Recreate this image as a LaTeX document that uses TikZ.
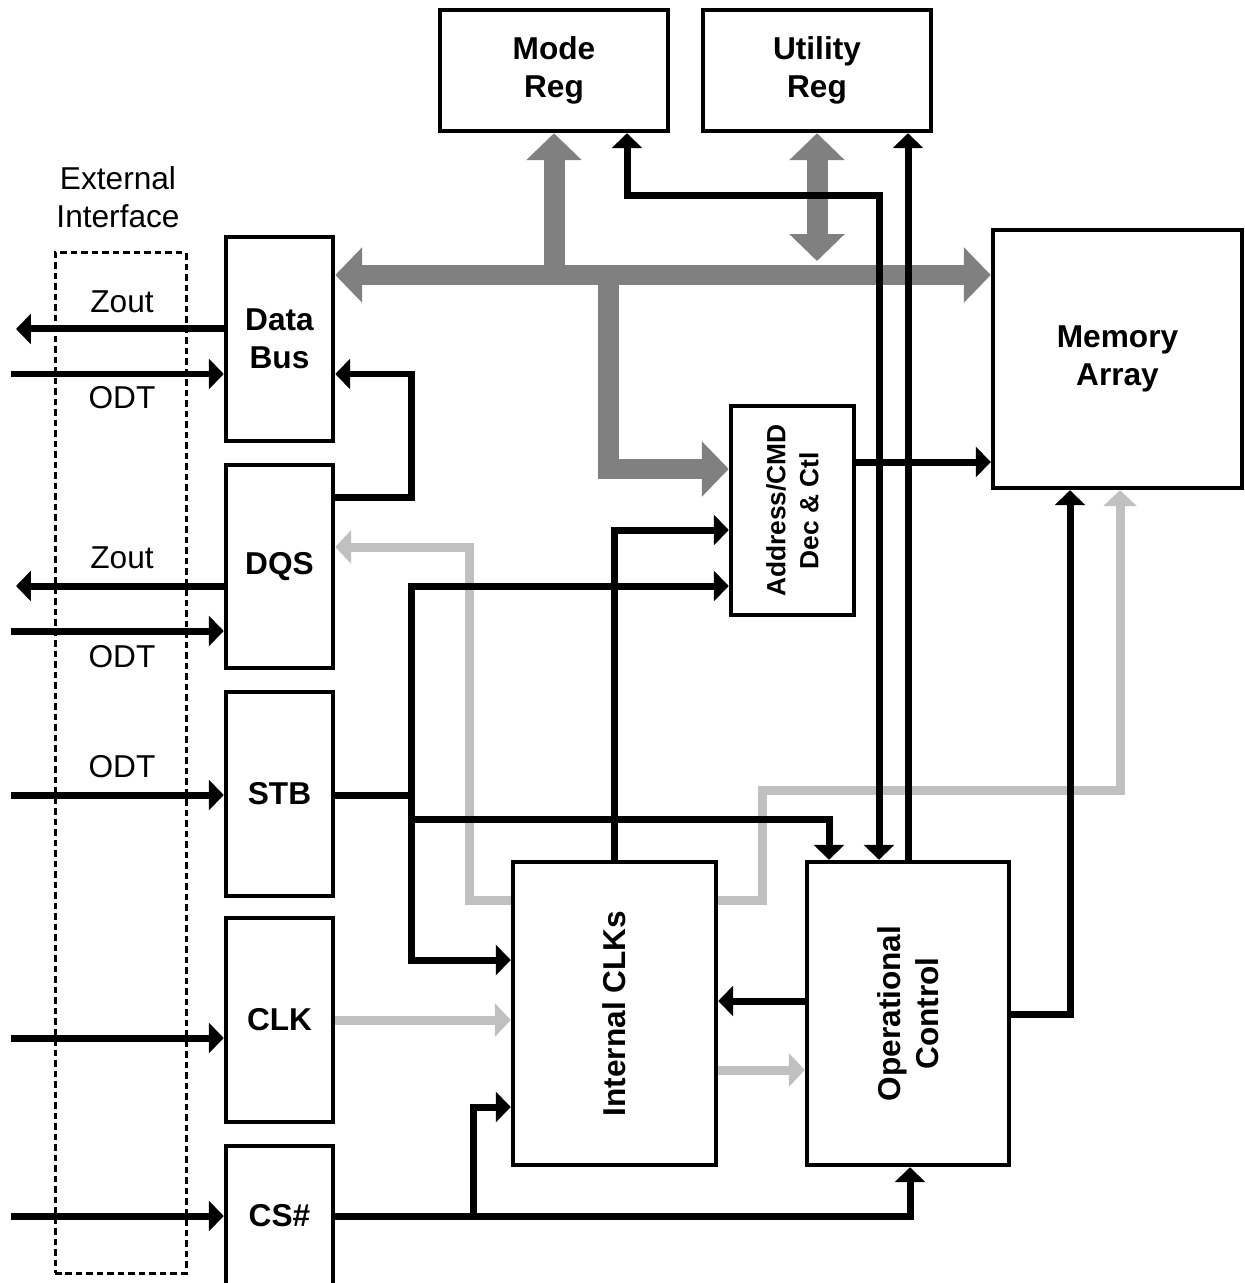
\documentclass[tikz,border=0pt]{standalone}
\usepackage{fontspec}
\setmainfont{Liberation Sans}
\usetikzlibrary{arrows.meta,fit}
\definecolor{busgray}{HTML}{808080}
\definecolor{siggray}{HTML}{C0C0C0}
\begin{document}
\begin{tikzpicture}[x=0.02cm,y=-0.02cm,
  box/.style={draw,line width=0.09cm,inner sep=0pt,align=center,font=\fontsize{18}{21.6}\selectfont\bfseries},
  vtxt/.style={rotate=90,align=center,font=\fontsize{18}{21.6}\selectfont\bfseries},
  lbl/.style={align=center,font=\fontsize{18}{21.6}\selectfont},
  blkline/.style={line width=0.14cm},
  blk/.style={line width=0.14cm,-{Triangle[length=0.3cm,width=0.6cm]}},
  blkboth/.style={line width=0.14cm,{Triangle[length=0.3cm,width=0.6cm]}-{Triangle[length=0.3cm,width=0.6cm]}},
  sig/.style={line width=0.18cm,color=siggray,-{Triangle[length=0.32cm,width=0.66cm]}},
  bus/.style={line width=0.42cm,color=busgray,-{Triangle[length=0.54cm,width=1.08cm]}},
  busboth/.style={line width=0.42cm,color=busgray,{Triangle[length=0.54cm,width=1.08cm]}-{Triangle[length=0.54cm,width=1.08cm]}}
]
\useasboundingbox (0,0) rectangle (1244,1283);

% external interface
\node[lbl] (extif) at (118,197) {External\\Interface};
\node[draw,line width=0.06cm,dash pattern=on 0.13cm off 0.08cm,inner sep=0pt,fit={(55,253)(186,1273)}] (extbox) {};

% boxes
\node[box,minimum width=4.56cm,minimum height=2.42cm] (modereg) at (554,70.5) {Mode\\Reg};
\node[box,minimum width=4.56cm,minimum height=2.42cm] (utilreg) at (817,70.5) {Utility\\Reg};
\node[box,minimum width=2.14cm,minimum height=4.08cm] (databus) at (279.5,339) {Data\\Bus};
\node[box,minimum width=2.14cm,minimum height=4.06cm] (dqs) at (279.5,566.5) {DQS};
\node[box,minimum width=2.14cm,minimum height=4.08cm] (stb) at (279.5,794) {STB};
\node[box,minimum width=2.14cm,minimum height=4.08cm] (clk) at (279.5,1020) {CLK};
\node[box,minimum width=2.14cm,minimum height=2.8cm] (cs) at (279.5,1216) {CS\#};
\node[box,minimum width=4.06cm,minimum height=6.06cm] (iclk) at (614.5,1013.5) {};
\node[box,minimum width=4.04cm,minimum height=6.06cm] (opctl) at (908,1013.5) {};
\node[box,minimum width=2.46cm,minimum height=4.18cm] (addr) at (792.5,510.5) {};
\node[box,minimum width=4.98cm,minimum height=5.16cm] (mem) at (1117.5,359) {Memory\\Array};

\node[vtxt,font=\fontsize{15}{18.8}\selectfont\bfseries] (addrtxt) at (addr.center) {Address/CMD\\Dec \& Ctl};
\node[vtxt] (iclktxt) at (iclk.center) {Internal CLKs};
\node[vtxt] (opctltxt) at (opctl.center) {Operational\\Control};

% interface labels
\node[lbl] (tz1) at (122,302) {Zout};
\node[lbl] (to1) at (122,398) {ODT};
\node[lbl] (tz2) at (122,558) {Zout};
\node[lbl] (to2) at (122,657) {ODT};
\node[lbl] (to3) at (122,767) {ODT};

% free ends
\coordinate (zo1) at (16,329);
\coordinate (od1) at (11,374);
\coordinate (zo2) at (16,586);
\coordinate (od2) at (11,631);
\coordinate (od3) at (11,795);
\coordinate (ck) at (11,1038);
\coordinate (csi) at (11,1216);

\draw[blk] (databus.west |- zo1) -- (zo1);
\draw[blk] (od1) -- (databus.west |- od1);
\draw[blk] (dqs.west |- zo2) -- (zo2);
\draw[blk] (od2) -- (dqs.west |- od2);
\draw[blk] (od3) -- (stb.west |- od3);
\draw[blk] (ck) -- (clk.west |- ck);
\draw[blk] (csi) -- (cs.west |- csi);

% gray bus
\coordinate (b0) at (0,275);
\coordinate (bu) at (554,275);
\coordinate (bd) at (608,275);
\coordinate (bdd) at (608,469);
\coordinate (ub) at (817,261);
\draw[bus] (bu) -- (modereg.south);
\draw[bus] (bd) -- (bdd) -- (addr.west |- bdd);
\draw[busboth] (databus.east |- b0) -- (mem.west |- b0);
\draw[busboth] (ub) -- (utilreg.south);

% DQS -> Data Bus
\coordinate (dq1) at (411,497);
\coordinate (dq2) at (411,374);
\draw[blk] (dqs.east |- dq1) -- (dq1) -- (dq2) -- (databus.east |- dq2);

% Internal CLKs -> DQS (gray)
\coordinate (g1) at (469,900);
\coordinate (g2) at (469,547);
\draw[sig] (iclk.west |- g1) -- (g1) -- (g2) -- (dqs.east |- g2);

% Internal CLKs -> Memory (gray)
\coordinate (q1) at (762,900);
\coordinate (q2) at (762,790);
\coordinate (q3) at (1120,790);
\draw[sig] (iclk.east |- q1) -- (q1) -- (q2) -- (q3) -- (mem.south -| q3);

% STB net
\coordinate (sj) at (411,795);
\coordinate (sa) at (411,586);
\coordinate (sb) at (411,960);
\coordinate (sc) at (411,819);
\coordinate (sd) at (829,819);
\draw[blkline] (stb.east |- sj) -- (sj);
\draw[blk] (sj) -- (sa) -- (addr.west |- sa);
\draw[blk] (sj) -- (sb) -- (iclk.west |- sb);
\draw[blk] (sc) -- (sd) -- (opctl.north -| sd);

% Internal CLKs -> Addr
\coordinate (ia) at (614,530);
\draw[blk] (iclk.north) -- (iclk.north |- ia) -- (addr.west |- ia);

% Addr -> Memory
\coordinate (am) at (0,462);
\draw[blk] (addr.east |- am) -- (mem.west |- am);

% Mode Reg <-> Operational Control
\coordinate (m1) at (879,196);
\coordinate (m2) at (627,196);
\draw[blkboth] (opctl.north -| m1) -- (m1) -- (m2) -- (modereg.south -| m2);

% Operational Control -> Utility Reg
\draw[blk] (opctl.north) -- (opctl.north |- utilreg.south);

% Operational Control -> Memory
\coordinate (om) at (1070,1014);
\draw[blk] (opctl.east |- om) -- (om) -- (mem.south -| om);

% between Internal CLKs and Operational Control
\coordinate (oi) at (0,1001);
\coordinate (io) at (0,1070);
\draw[blk] (opctl.west |- oi) -- (iclk.east |- oi);
\draw[sig] (iclk.east |- io) -- (opctl.west |- io);

% CLK -> Internal CLKs
\coordinate (ci) at (0,1020);
\draw[sig] (clk.east |- ci) -- (iclk.west |- ci);

% CS# net
\coordinate (c1) at (910,1216);
\coordinate (c2) at (473,1216);
\coordinate (c3) at (473,1107);
\draw[blk] (cs.east |- c1) -- (c1) -- (opctl.south -| c1);
\draw[blk] (c2) -- (c3) -- (iclk.west |- c3);
\end{tikzpicture}
\end{document}
